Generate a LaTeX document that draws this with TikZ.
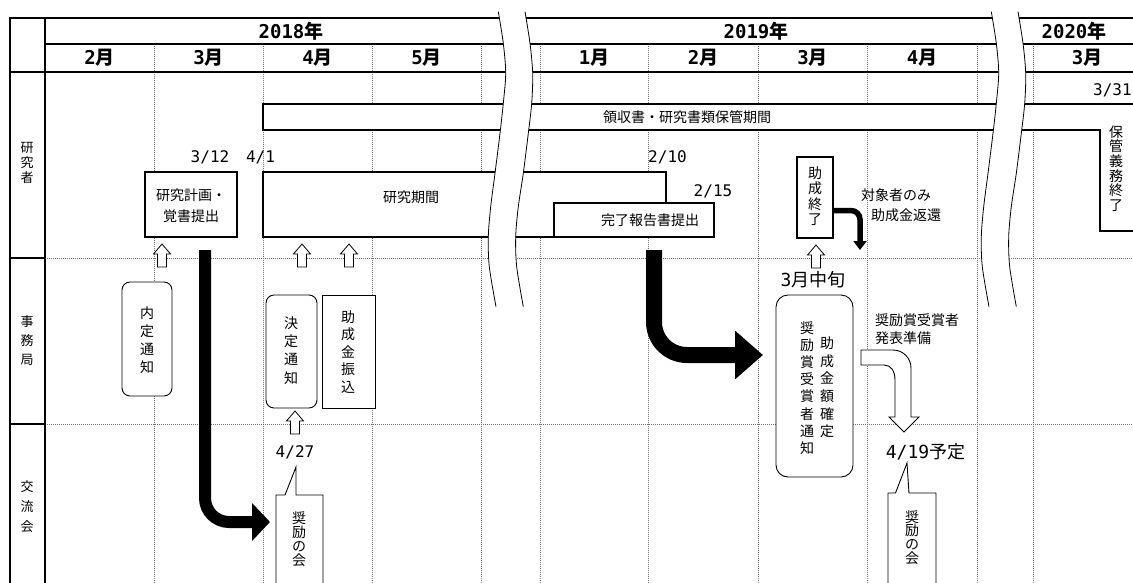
\documentclass[tikz,border=0pt]{standalone}
\usepackage{fontspec}
\setmainfont{Noto Sans CJK JP}
\newfontfamily\mono{DejaVu Sans Mono}
\usetikzlibrary{arrows.meta}
\tikzset{
  gridln/.style={black!55, line width=1pt, dash pattern=on 1pt off 1pt},
  hline/.style={line width=1.8pt, line cap=rect},
  thickbox/.style={draw, line width=2.4pt, fill=white, inner sep=0pt},
  thinbox/.style={draw, line width=0.9pt, fill=white, inner sep=0pt},
  rbox/.style={draw, line width=0.9pt, fill=white, inner sep=0pt, rounded corners=8pt},
  txt/.style={inner sep=0pt, font={\fontsize{14}{21}\selectfont}, align=center},
  bigtxt/.style={inner sep=0pt, font={\fontsize{18}{18}\selectfont}},
  vt/.style={inner sep=0pt, align=center, font={\fontsize{14}{#1}\selectfont}},
  lane/.style={inner sep=0pt, align=center, font={\fontsize{13}{#1}\selectfont}},
  hd/.style={inner sep=0pt, font={\fontsize{19}{19}\selectfont\bfseries}},
  datetxt/.style={inner sep=0pt, font={\mono\fontsize{16}{16}\selectfont}},
  uparr/.pic={\draw[line width=0.8pt, fill=white] (0,0) -- (8.5,10) -- (4.5,10) -- (4.5,23) -- (-4.5,23) -- (-4.5,10) -- (-8.5,10) -- cycle;},
  breakband/.pic={
    \fill[white] plot[smooth] coordinates {(498.3,11.7) (503.3,43.3) (505.7,73.3) (503.3,103.3) (500,133.3) (495,173.3) (490.7,206.7) (488.3,236.7) (489.3,266.7) (496,306.7)}
      -- plot[smooth] coordinates {(523.3,306.7) (516.7,266.7) (515.7,236.7) (518.3,206.7) (523.3,173.3) (528.3,133.3) (531.7,103.3) (532.7,73.3) (530,43.3) (525,11.7)} -- cycle;
    \draw[line width=0.8pt] plot[smooth] coordinates {(498.3,11.7) (503.3,43.3) (505.7,73.3) (503.3,103.3) (500,133.3) (495,173.3) (490.7,206.7) (488.3,236.7) (489.3,266.7) (496,306.7)};
    \draw[line width=0.8pt] plot[smooth] coordinates {(525,11.7) (530,43.3) (532.7,73.3) (531.7,103.3) (528.3,133.3) (523.3,173.3) (518.3,206.7) (515.7,236.7) (516.7,266.7) (523.3,306.7)};
  },
  bigarrowA/.style={line width=12pt, rounded corners=24pt, -{Triangle[length=18pt, width=37pt]}},
  bigarrowB/.style={line width=16pt, rounded corners=33pt, -{Triangle[length=28pt, width=47pt]}},
  retarrow/.style={line width=5.5pt, rounded corners=9pt, -{Triangle[length=9pt, width=13pt]}},
}
\begin{document}
\begin{tikzpicture}[x=1pt,y=-1pt]
\useasboundingbox (0,0) rectangle (1133,582);
\clip (0,0) rectangle (1133,582);

% ---- grid ----
\foreach \x in {154,263,372,481,540,648,758,867,977,1033}
  \draw[gridln] (\x,44) -- (\x,600);
\draw[gridln] (45,258) -- (1140,258);
\draw[gridln] (45,424) -- (1140,424);
\draw[hline] (10,18) -- (1140,18);
\draw[hline] (45,44) -- (1140,44);
\draw[hline] (10,72) -- (1140,72);
\draw[hline] (10,18) -- (10,600);
\draw[hline] (45,18) -- (45,600);
\draw[hline] (10,258) -- (45,258);
\draw[hline] (10,424) -- (45,424);

% ---- header ----
\node[hd] (y2018) at (291,31) {{\mono\bfseries 2018}年};
\node[hd] (y2019) at (756,31) {{\mono\bfseries 2019}年};
\node[hd] (y2020) at (1074,31) {{\mono\bfseries 2020}年};
\node[hd] (m1) at (99.5,58) {{\mono\bfseries 2}月};
\node[hd] (m2) at (208.5,58) {{\mono\bfseries 3}月};
\node[hd] (m3) at (317.5,58) {{\mono\bfseries 4}月};
\node[hd] (m4) at (426.5,58) {{\mono\bfseries 5}月};
\node[hd] (m5) at (594,58) {{\mono\bfseries 1}月};
\node[hd] (m6) at (703,58) {{\mono\bfseries 2}月};
\node[hd] (m7) at (812.5,58) {{\mono\bfseries 3}月};
\node[hd] (m8) at (922,58) {{\mono\bfseries 4}月};
\node[hd] (m9) at (1087,58) {{\mono\bfseries 3}月};

% ---- lane labels ----
\node[lane=15] (l1) at (27,163) {研\\究\\者};
\node[lane=19] (l2) at (27,341) {事\\務\\局};
\node[lane=20] (l3) at (27,507) {交\\流\\会};

% ---- researcher lane ----
\draw[line width=2.4pt, fill=white] (263,104) -- (1145,104) -- (1145,231) -- (1100,231) -- (1100,130) -- (263,130) -- cycle;
\node[txt] (keeptxt) at (687,117) {領収書・研究書類保管期間};
\node[vt=14.6] (keepend) at (1116,168.5) {保\\管\\義\\務\\終\\了};
\node[datetxt, anchor=west] (d331) at (1093,90) {3/31};

\node[thickbox, minimum width=92pt, minimum height=65pt] (plan) at (191,204.5) {};
\node[txt] (plantxt) at (191,205.5) {研究計画・\\覚書提出};
\node[datetxt] (d312) at (210,157) {3/12};
\node[datetxt] (d41) at (260.5,157) {4/1};

\node[thickbox, minimum width=403pt, minimum height=65pt] (period) at (464.5,204.5) {};
\node[txt] (periodtxt) at (411,197) {研究期間};
\node[datetxt] (d210) at (667.5,157) {2/10};
\node[thickbox, minimum width=160pt, minimum height=34pt] (report) at (634,220) {};
\node[txt] (reporttxt) at (650,220) {完了報告書提出};
\node[datetxt] (d215) at (713,191) {2/15};

\node[thickbox, minimum width=36pt, minimum height=81pt] (endbox) at (815,197.5) {};
\node[vt=15.5] (endtxt) at (815,196) {助\\成\\終\\了};
\node[txt, anchor=west] (ret1) at (861,195) {対象者のみ};
\node[txt, anchor=west] (ret2) at (871,215) {助成金返還};
\coordinate (rets) at (endbox.east |- 0,210.5);
\coordinate (rete) at (860,250);
\draw[retarrow] (rets) -| (rete);

\pic at (162,244) {uparr};
\pic at (302,244) {uparr};
\pic at (349,244) {uparr};
\pic at (816,245) {uparr};
\node[bigtxt] (mid3) at (813,280) {{\mono 3}月中旬};

% ---- office lane ----
\node[rbox, minimum width=50pt, minimum height=114pt] (naitei) at (147,339) {};
\node[vt=18] (naiteitxt) at (147,340) {内\\定\\通\\知};
\node[rbox, minimum width=51pt, minimum height=113pt] (kettei) at (291.5,351.5) {};
\node[vt=18.3] (ketteitxt) at (291,350.5) {決\\定\\通\\知};
\node[thinbox, minimum width=53pt, minimum height=113pt] (furikomi) at (348.5,351.5) {};
\node[vt=17.5] (furikomitxt) at (348,352) {助\\成\\金\\振\\込};
\pic at (295,411) {uparr};

\node[rbox, rounded corners=12pt, minimum width=77pt, minimum height=182pt] (award) at (814.5,386) {};
\node[vt=17.2] (awtxt1) at (807,388) {奨\\励\\賞\\受\\賞\\者\\通\\知};
\node[vt=17.6] (awtxt2) at (827,387.5) {助\\成\\金\\額\\確\\定};
\node[txt, anchor=west, align=left, font={\fontsize{14}{18}\selectfont}] (prep) at (875,329) {奨励賞受賞者\\発表準備};

% hollow bent arrow
\draw[line width=0.9pt, fill=white] (861,350) -- (893,350) .. controls (903,350) and (911,358) .. (911,368) -- (911,417) -- (919,417) -- (904,432) -- (889,417) -- (895,417) -- (895,380) .. controls (895,371) and (891,365) .. (884,365) -- (861,365) -- cycle;

% ---- meeting lane ----
\node[datetxt] (d427) at (295,452) {4/27};
\coordinate (tip1) at (296,467);
\draw[line width=0.9pt, fill=white] (276,600) -- (276,495) -- (285,495) -- (tip1) -- (296,495) -- (323,495) -- (323,600);
\node[vt=14] (meet1) at (299,539) {奨\\励\\の\\会};

\node[bigtxt] (d419) at (925.5,452) {{\mono 4/19}予定};
\coordinate (tip2) at (907,463);
\draw[line width=0.9pt, fill=white] (888,600) -- (888,493) -- (895.5,493) -- (tip2) -- (909,493) -- (936,493) -- (936,600);
\node[vt=13.7] (meet2) at (912,537.5) {奨\\励\\の\\会};

% ---- big arrows ----
\coordinate (b1s) at (205,250);
\coordinate (b1e) at (270,522);
\draw[bigarrowA] (b1s) |- (b1e);
\coordinate (b2s) at (654,250);
\coordinate (b2e) at (763,355);
\draw[bigarrowB] (b2s) |- (b2e);

% ---- break bands ----
\pic at (0,0) {breakband};
\pic at (493,0) {breakband};
\end{tikzpicture}
\end{document}
